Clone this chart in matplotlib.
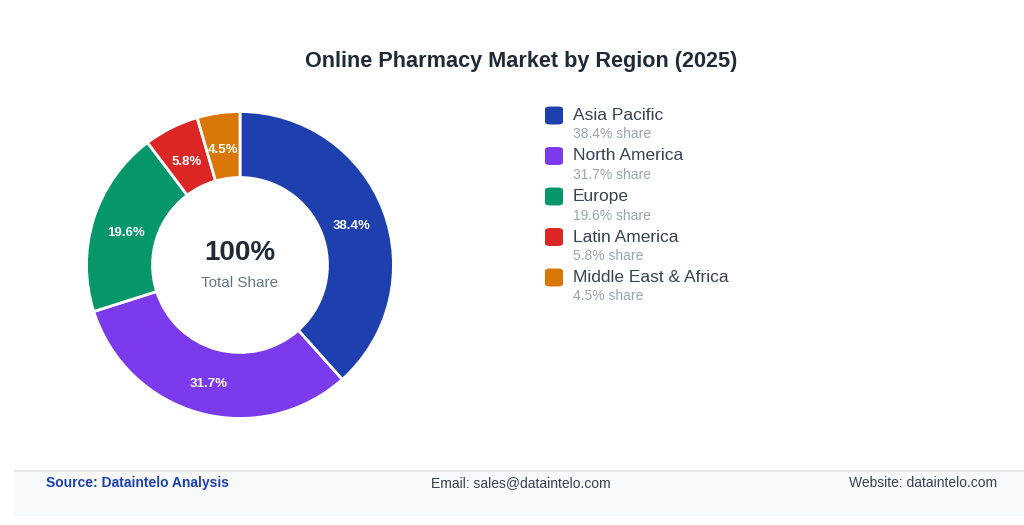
import matplotlib.pyplot as plt
from matplotlib.patches import Rectangle, FancyBboxPatch

plt.rcParams['font.family'] = ['Liberation Sans', 'DejaVu Sans']

regions = ['Asia Pacific', 'North America', 'Europe', 'Latin America', 'Middle East & Africa']
shares = [38.4, 31.7, 19.6, 5.8, 4.5]
colors = ['#1e40af', '#7c3aed', '#059669', '#dc2626', '#d97706']

W, H = 1024, 525
fig = plt.figure(figsize=(W / 100, H / 100), dpi=100)


def fx(px):
    return px / W


def fy(py):
    return 1 - py / H


# donut
ax = fig.add_axes([fx(85), fy(420), fx(310), 310 / H])
wedges, texts = ax.pie(shares, colors=colors, startangle=90, counterclock=False,
                       radius=1.0, labels=[f'{s}%' for s in shares], labeldistance=0.78,
                       wedgeprops=dict(width=0.43, edgecolor='white', linewidth=2),
                       textprops=dict(color='white', fontsize=9.5, fontweight='bold'))
for t in texts:
    t.set_ha('center')
    t.set_va('center')
    x, y = t.get_position()
    t.set_position((x, y - 0.025))
ax.set_aspect('equal')
ax.set_xlim(-1.01, 1.01)
ax.set_ylim(-1.01, 1.01)
ax.text(0, 0.08, '100%', ha='center', va='center', fontsize=20, fontweight='bold', color='#1f2937')
ax.text(0, -0.12, 'Total Share', ha='center', va='center', fontsize=11, color='#64748b')

fig.text(fx(521), fy(62), 'Online Pharmacy Market by Region (2025)', ha='center', va='center',
         fontsize=15.6, fontweight='bold', color='#1f2937')

# legend
for i, (name, s, c) in enumerate(zip(regions, shares, colors)):
    y = 115.5 + i * 40.5
    fig.patches.append(FancyBboxPatch((fx(545), fy(y + 9)), fx(18), 18 / H,
                                      boxstyle='round,pad=0,rounding_size=0.005',
                                      transform=fig.transFigure, facecolor=c, edgecolor='none'))
    fig.text(fx(573), fy(y), name, ha='left', va='center', fontsize=12.5, color='#374151')
    fig.text(fx(573), fy(y + 19), f'{s}% share', ha='left', va='center', fontsize=10, color='#9ca3af')

# footer
fig.patches.append(Rectangle((fx(14), fy(516)), fx(1010), 45 / H, transform=fig.transFigure,
                             facecolor='#f8f9fb', edgecolor='none'))
fig.patches.append(Rectangle((fx(14), fy(472)), fx(1010), 2 / H, transform=fig.transFigure,
                             facecolor='#e5e7eb', edgecolor='none'))
fig.text(fx(46), fy(483), 'Source: Dataintelo Analysis', ha='left', va='center',
         fontsize=10, fontweight='bold', color='#1e40af')
fig.text(fx(521), fy(483), 'Email: sales@dataintelo.com', ha='center', va='center',
         fontsize=10, color='#374151')
fig.text(fx(997), fy(483), 'Website: dataintelo.com', ha='right', va='center',
         fontsize=10, color='#374151')

fig.savefig('out.png', dpi=100, facecolor='white')
